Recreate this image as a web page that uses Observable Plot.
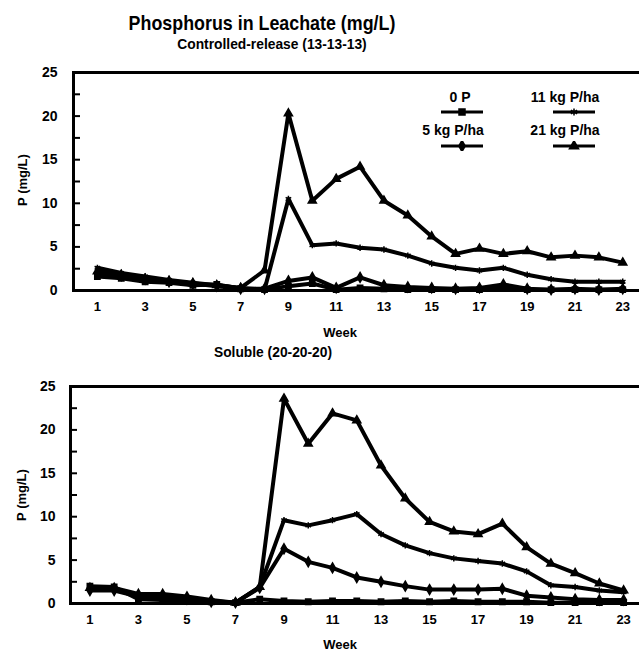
<!DOCTYPE html>
<html><head><meta charset="utf-8">
<script src="https://cdn.jsdelivr.net/npm/d3@7"></script>
<script src="https://cdn.jsdelivr.net/npm/@observablehq/plot@0.6"></script>
<style>
html,body{margin:0;padding:0;background:#fff;overflow:hidden;}
#wrap{position:relative;width:639px;height:653px;overflow:hidden;font-family:"Liberation Sans",Arial,sans-serif;font-weight:bold;color:#000;background:#fff;}
.t{position:absolute;white-space:nowrap;line-height:1;z-index:5;}
.plot{position:absolute;left:0;z-index:1;max-width:none !important;}
.sw{z-index:5;}
</style></head><body><div id="wrap">
<div class="t" id="title" style="left:262px;top:22px;font-size:21px;transform:translate(-50%,-50%) scaleX(0.85);">Phosphorus in Leachate (mg/L)</div>
<div class="t" style="left:272px;top:43px;font-size:15px;transform:translate(-50%,-50%) scaleX(0.92);">Controlled-release (13-13-13)</div>
<div class="t" style="left:273px;top:351px;font-size:15px;transform:translate(-50%,-50%) scaleX(0.92);">Soluble (20-20-20)</div>
<div class="t" style="left:340px;top:332px;font-size:13px;transform:translate(-50%,-50%);">Week</div>
<div class="t" style="left:340px;top:644px;font-size:13px;transform:translate(-50%,-50%);">Week</div>
<div class="t" style="left:22px;top:180px;font-size:13px;transform:translate(-50%,-50%) rotate(-90deg);">P (mg/L)</div>
<div class="t" style="left:21px;top:495px;font-size:13px;transform:translate(-50%,-50%) rotate(-90deg);">P (mg/L)</div>
<div id="legend"></div>
</div>
<script>
const weeks = [1,2,3,4,5,6,7,8,9,10,11,12,13,14,15,16,17,18,19,20,21,22,23];
const seriesNames = ["0 P","5 kg P/ha","11 kg P/ha","21 kg P/ha"];
const seriesSymbols = ["square","diamond","asterisk","triangle"];
const xTickLabels = [1,3,5,7,9,11,13,15,17,19,21,23];
const yTickLabels = [0,5,10,15,20,25];
const yMinorTicks = [2.5,5,7.5,10,12.5,15,17.5,20,22.5];

// Controlled-release (13-13-13)
const cr0  = [1.6,1.4,1.0,0.9,0.6,0.7,0.2,0.1,0.5,0.8,0.1,0.3,0.2,0.1,0.1,0.1,0.1,0.3,0.1,0.1,0.1,0.1,0.1];
const cr5  = [2.0,1.7,1.3,1.0,0.8,0.5,0.2,0.2,1.1,1.5,0.3,1.5,0.6,0.4,0.3,0.2,0.3,0.7,0.2,0.1,0.2,0.1,0.2];
const cr11 = [2.6,2.0,1.6,1.2,0.9,0.6,0.3,0.1,10.5,5.2,5.4,4.9,4.7,4.0,3.1,2.6,2.3,2.6,1.8,1.3,1.0,1.0,1.0];
const cr21 = [2.2,1.8,1.3,1.1,0.8,0.6,0.3,2.3,20.3,10.3,12.8,14.2,10.3,8.6,6.2,4.2,4.8,4.2,4.5,3.8,4.0,3.8,3.2];

// Soluble (20-20-20)
const so0  = [2.0,1.9,0.5,0.4,0.3,0.2,0.1,0.5,0.3,0.2,0.3,0.3,0.2,0.3,0.2,0.3,0.2,0.2,0.2,0.1,0.1,0.1,0.1];
const so5  = [1.5,1.5,0.8,0.7,0.5,0.2,0.1,1.8,6.3,4.8,4.1,3.0,2.5,2.0,1.6,1.6,1.6,1.7,0.9,0.7,0.5,0.4,0.4];
const so11 = [1.7,1.6,1.0,0.9,0.6,0.3,0.1,1.9,9.6,9.0,9.6,10.3,8.0,6.7,5.8,5.2,4.9,4.6,3.7,2.1,1.9,1.5,1.3];
const so21 = [1.8,1.8,1.1,1.1,0.8,0.4,0.1,1.9,23.6,18.4,21.9,21.1,15.9,12.1,9.4,8.3,8.0,9.2,6.5,4.6,3.5,2.3,1.5];

function rowsOf(list) {
  const rows = [];
  list.forEach((vals, s) => vals.forEach((v, i) => rows.push({week: weeks[i], p: v, series: seriesNames[s]})));
  return rows;
}

function chart(rows, o) {
  const x0 = o.xmin;
  const tickLen = 7 / o.pxPerWeek;
  return Plot.plot({
    width: 660, height: o.height,
    marginLeft: o.left, marginRight: 0, marginTop: o.top, marginBottom: o.bottom,
    style: {fontFamily: "Liberation Sans, Arial, sans-serif", background: "transparent", overflow: "visible", maxWidth: "none"},
    x: {domain: [x0, x0 + (660 - o.left) / o.pxPerWeek]},
    y: {domain: [0, 25]},
    symbol: {domain: seriesNames, range: seriesSymbols},
    marks: [
      Plot.ruleY(yMinorTicks, {x1: x0, x2: x0 + tickLen, stroke: "black", strokeWidth: 2}),
      Plot.line(rows, {x: "week", y: "p", z: "series", stroke: "black", strokeWidth: 4, strokeLinejoin: "round"}),
      Plot.dot(rows, {x: "week", y: "p", symbol: "series", fill: "black", stroke: "black", strokeWidth: 1.5, r: 3}),
      Plot.frame({stroke: "black", strokeWidth: 3}),
      Plot.axisY(yTickLabels, {tickSize: 0, tickPadding: o.ypad, fontSize: 14, fontWeight: "bold", label: null}),
      Plot.axisX(xTickLabels, {tickSize: 0, tickPadding: 11, fontSize: 13, fontWeight: "bold", label: null})
    ]
  });
}

const wrap = document.getElementById("wrap");
const top1 = chart(rowsOf([cr0, cr5, cr11, cr21]), {xmin: 0, pxPerWeek: 23.88, left: 73, top: 12, bottom: 55, height: 285, ypad: 16});
top1.classList.add("plot"); top1.style.top = "60px"; top1.style.maxWidth = "none"; top1.style.width = "660px";
wrap.appendChild(top1);
const bot = chart(rowsOf([so0, so5, so11, so21]), {xmin: 0.2, pxPerWeek: 24.26, left: 70, top: 16, bottom: 50, height: 283, ypad: 15});
bot.classList.add("plot"); bot.style.top = "370px"; bot.style.maxWidth = "none"; bot.style.width = "660px";
wrap.appendChild(bot);

// legend
const legendPos = [
  {tx: 460, ty: 97, lx: 462, ly: 112},
  {tx: 453, ty: 130, lx: 462, ly: 146},
  {tx: 565, ty: 97, lx: 574, ly: 112},
  {tx: 565, ty: 130, lx: 574, ly: 146}
];
const d3sym = {square: d3.symbolSquare, diamond: d3.symbolDiamond, asterisk: d3.symbolAsterisk, triangle: d3.symbolTriangle};
const legend = document.getElementById("legend");
seriesNames.forEach((name, i) => {
  const p = legendPos[i];
  const t = document.createElement("div");
  t.className = "t";
  t.textContent = name;
  t.style.cssText = `left:${p.tx}px;top:${p.ty}px;font-size:14px;transform:translate(-50%,-50%);`;
  legend.appendChild(t);
  const svg = d3.create("svg").attr("width", 44).attr("height", 10).attr("class", "sw")
    .style("position", "absolute").style("left", (p.lx - 22) + "px").style("top", (p.ly - 5) + "px");
  svg.append("line").attr("x1", 1).attr("x2", 43).attr("y1", 5).attr("y2", 5).attr("stroke", "black").attr("stroke-width", 3);
  svg.append("path").attr("d", d3.symbol(d3sym[seriesSymbols[i]], 36)()).attr("transform", "translate(22,5)")
    .attr("fill", "black").attr("stroke", "black").attr("stroke-width", 1.5);
  legend.appendChild(svg.node());
});
</script>
</body></html>
